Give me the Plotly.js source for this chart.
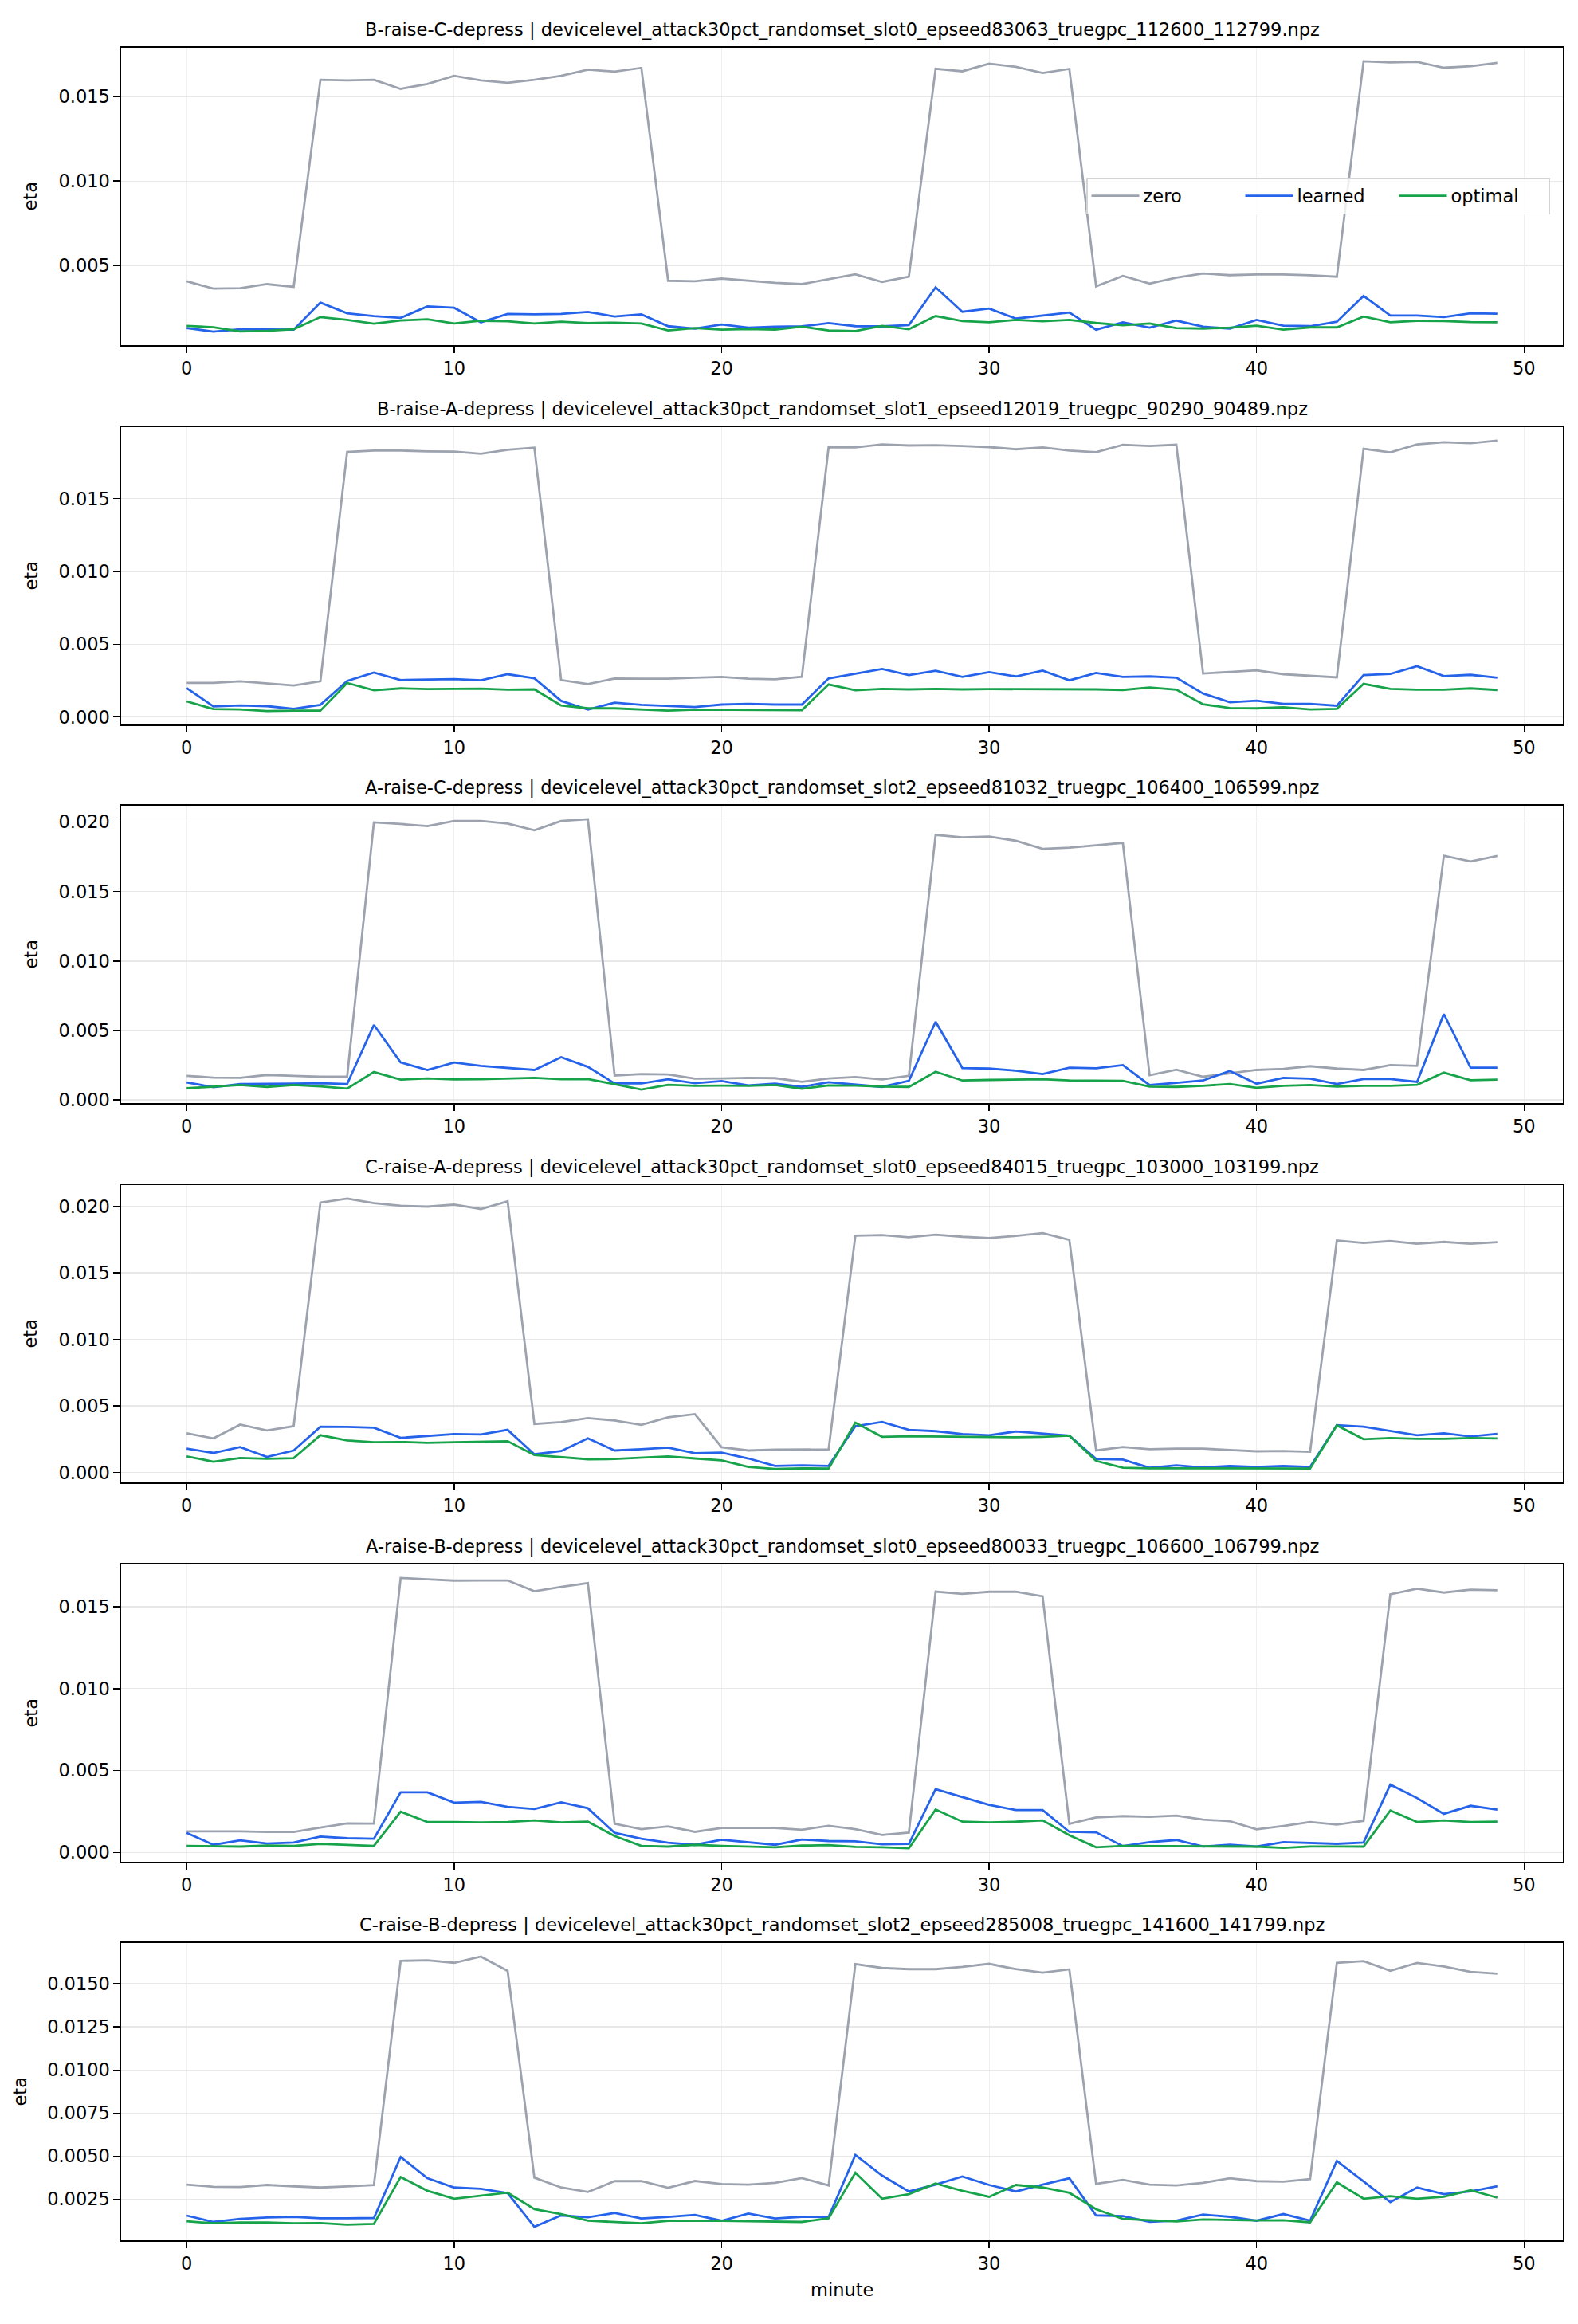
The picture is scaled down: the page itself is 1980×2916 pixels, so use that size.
<!DOCTYPE html>
<html>
<head>
<meta charset="utf-8">
<script src="https://cdn.plot.ly/plotly-3.0.1.min.js"></script>
<style>
  html, body { margin: 0; padding: 0; background: #ffffff; }
  #chart { width: 1980px; height: 2916px; }
</style>
</head>
<body>
<div id="chart"></div>
<script>
// ---------------- DATA ----------------
const minute = [0,1,2,3,4,5,6,7,8,9,10,11,12,13,14,15,16,17,18,19,20,21,22,23,24,25,26,27,28,29,30,31,32,33,34,35,36,37,38,39,40,41,42,43,44,45,46,47,48,49];

const panelTitles = [
  "B-raise-C-depress | devicelevel_attack30pct_randomset_slot0_epseed83063_truegpc_112600_112799.npz",
  "B-raise-A-depress | devicelevel_attack30pct_randomset_slot1_epseed12019_truegpc_90290_90489.npz",
  "A-raise-C-depress | devicelevel_attack30pct_randomset_slot2_epseed81032_truegpc_106400_106599.npz",
  "C-raise-A-depress | devicelevel_attack30pct_randomset_slot0_epseed84015_truegpc_103000_103199.npz",
  "A-raise-B-depress | devicelevel_attack30pct_randomset_slot0_epseed80033_truegpc_106600_106799.npz",
  "C-raise-B-depress | devicelevel_attack30pct_randomset_slot2_epseed285008_truegpc_141600_141799.npz"
];

const seriesNames = ["zero", "learned", "optimal"];

// Panel 1
const zero_p1 = [0.00407,0.00363,0.00366,0.0039,0.00374,0.0160,0.01596,0.0160,0.01546,0.01575,0.01623,0.01596,0.01582,0.0160,0.01623,0.0166,0.01648,0.0167,0.0041,0.00407,0.00423,0.0041,0.00398,0.0039,0.0042,0.00448,0.00403,0.00434,0.01665,0.0165,0.01695,0.01676,0.0164,0.01664,0.00377,0.00439,0.00393,0.00428,0.00453,0.00443,0.00447,0.00447,0.00442,0.00434,0.01709,0.01703,0.01706,0.01671,0.0168,0.0170];
const learned_p1 = [0.0013,0.00109,0.00123,0.00123,0.0012,0.00281,0.00217,0.00201,0.0019,0.00258,0.0025,0.00164,0.00214,0.00211,0.00214,0.00225,0.00198,0.00211,0.00141,0.00126,0.00151,0.00132,0.00138,0.0014,0.00159,0.00141,0.0014,0.00148,0.00371,0.00226,0.00245,0.00186,0.00203,0.00222,0.0012,0.00164,0.00132,0.00174,0.00138,0.00126,0.00178,0.00144,0.00141,0.00167,0.0032,0.00204,0.00204,0.00195,0.00217,0.00215];
const optimal_p1 = [0.00143,0.00135,0.0011,0.00113,0.00123,0.00195,0.00178,0.00156,0.00175,0.00182,0.00157,0.00173,0.0017,0.00157,0.00168,0.00159,0.00162,0.00157,0.00116,0.0013,0.0012,0.00124,0.00121,0.00138,0.00116,0.00112,0.00143,0.00123,0.00201,0.00171,0.00164,0.00178,0.0017,0.00178,0.0016,0.00146,0.00157,0.0013,0.00127,0.00132,0.00144,0.0012,0.00134,0.00134,0.00198,0.00164,0.00173,0.00171,0.00165,0.00164];

// Panel 2
const zero_p2 = [0.00234,0.00234,0.00245,0.00232,0.00217,0.00246,0.01821,0.0183,0.0183,0.01825,0.01823,0.01808,0.01836,0.0185,0.00254,0.00226,0.00265,0.00263,0.00263,0.0027,0.00276,0.00263,0.00259,0.00277,0.01854,0.01852,0.01872,0.01865,0.01867,0.01861,0.01854,0.01839,0.01852,0.0183,0.01819,0.0187,0.01861,0.0187,0.00299,0.0031,0.00321,0.00294,0.00283,0.00272,0.01843,0.01818,0.01872,0.01887,0.01881,0.01898];
const learned_p2 = [0.00199,0.00073,0.0008,0.00075,0.00057,0.00084,0.00248,0.00305,0.00254,0.00257,0.00261,0.00252,0.00294,0.00266,0.00111,0.00051,0.00099,0.00084,0.00078,0.00069,0.00086,0.00091,0.00086,0.00086,0.00265,0.00296,0.0033,0.00288,0.00318,0.00276,0.00308,0.00279,0.00319,0.00252,0.00303,0.00276,0.00279,0.0027,0.00162,0.00102,0.00113,0.00091,0.00091,0.00078,0.00288,0.00296,0.00349,0.00281,0.0029,0.0027];
const optimal_p2 = [0.00108,0.00055,0.00053,0.00042,0.00044,0.00044,0.00234,0.00184,0.00197,0.00192,0.00193,0.00195,0.00188,0.0019,0.0008,0.0006,0.0006,0.00051,0.00044,0.00051,0.00051,0.00047,0.00051,0.00047,0.00224,0.00184,0.00193,0.0019,0.00193,0.0019,0.00192,0.00192,0.00192,0.00192,0.0019,0.00186,0.00203,0.00188,0.00088,0.00062,0.0006,0.00068,0.00053,0.00057,0.00228,0.00193,0.00188,0.00188,0.00197,0.00186];

// Panel 3
const zero_p3 = [0.00174,0.00161,0.00159,0.0018,0.00174,0.00167,0.00167,0.01998,0.01987,0.01971,0.02008,0.02008,0.0199,0.01941,0.02008,0.02021,0.00176,0.00186,0.00184,0.00153,0.00155,0.00159,0.00157,0.0013,0.00155,0.00165,0.00148,0.00174,0.01908,0.01891,0.01897,0.01866,0.01808,0.01816,0.01833,0.01851,0.00178,0.00218,0.00167,0.00193,0.00216,0.00224,0.00243,0.00226,0.00216,0.00251,0.00245,0.01759,0.01718,0.01757];
const learned_p3 = [0.00126,0.00092,0.00115,0.00115,0.00117,0.00121,0.00115,0.0054,0.0027,0.00216,0.0027,0.00245,0.0023,0.00216,0.00308,0.00238,0.00119,0.00119,0.00149,0.00121,0.00136,0.00105,0.00117,0.00094,0.00128,0.00111,0.00094,0.00138,0.00563,0.0023,0.00226,0.00211,0.00186,0.00232,0.00228,0.00251,0.00107,0.00123,0.0014,0.00209,0.00117,0.00159,0.00153,0.00115,0.00151,0.00151,0.0013,0.00619,0.00232,0.00232];
const optimal_p3 = [0.00084,0.00096,0.00107,0.00094,0.00107,0.00098,0.00082,0.00201,0.00146,0.00155,0.00148,0.00149,0.00155,0.00159,0.00149,0.00151,0.00113,0.00075,0.00109,0.00102,0.00103,0.00102,0.00107,0.0008,0.00105,0.00103,0.00096,0.00094,0.00203,0.0014,0.00144,0.00148,0.00149,0.0014,0.0014,0.00138,0.00096,0.00094,0.00102,0.00115,0.00088,0.00102,0.00107,0.00096,0.00102,0.00102,0.00109,0.00197,0.00142,0.00146];

// Panel 4
const zero_p4 = [0.00295,0.00257,0.00361,0.00317,0.00349,0.02028,0.02058,0.02024,0.02004,0.01998,0.02014,0.0198,0.02038,0.00365,0.00379,0.00409,0.00391,0.00359,0.00415,0.00439,0.0019,0.00166,0.00172,0.00172,0.00174,0.0178,0.01784,0.01768,0.01788,0.01772,0.01762,0.01778,0.018,0.01749,0.00166,0.00192,0.00176,0.0018,0.0018,0.0017,0.0016,0.00162,0.00156,0.01743,0.01725,0.01739,0.01719,0.01733,0.01719,0.01731];
const learned_p4 = [0.0018,0.00148,0.00192,0.00118,0.00166,0.00345,0.00343,0.00337,0.00261,0.00277,0.00289,0.00287,0.00321,0.00138,0.00162,0.00257,0.00166,0.00176,0.00188,0.00146,0.0015,0.00106,0.0005,0.00054,0.0005,0.00349,0.00381,0.00321,0.00311,0.00289,0.00281,0.00309,0.00295,0.00277,0.00102,0.00098,0.00036,0.00054,0.00038,0.0005,0.00042,0.0005,0.00042,0.00357,0.00345,0.00311,0.00281,0.00295,0.00271,0.00291];
const optimal_p4 = [0.00122,0.00082,0.0011,0.00104,0.00108,0.00281,0.00242,0.00228,0.0023,0.00224,0.00228,0.00232,0.00236,0.00132,0.00114,0.001,0.00102,0.0011,0.00122,0.00106,0.00092,0.00042,0.00028,0.00032,0.0003,0.00375,0.00269,0.00273,0.00271,0.00269,0.00271,0.00265,0.00269,0.00277,0.00088,0.00036,0.00032,0.0003,0.00032,0.00032,0.00032,0.0003,0.0003,0.00355,0.00251,0.00259,0.00253,0.00253,0.00259,0.00257];

// Panel 5
const zero_p5 = [0.00129,0.00129,0.00129,0.00125,0.00125,0.00152,0.00178,0.00176,0.01675,0.01667,0.01659,0.0166,0.0166,0.01594,0.01621,0.01644,0.00175,0.00142,0.00159,0.00126,0.0015,0.0015,0.0015,0.00139,0.00163,0.00142,0.00107,0.00121,0.01592,0.01578,0.01591,0.01591,0.01563,0.00175,0.00214,0.00222,0.00218,0.00225,0.00201,0.00191,0.00141,0.00162,0.00186,0.0017,0.00193,0.01576,0.0161,0.01586,0.01604,0.0160];
const learned_p5 = [0.0012,0.00047,0.00074,0.00055,0.00061,0.00097,0.00087,0.00084,0.00367,0.00367,0.00304,0.00309,0.00278,0.00265,0.00306,0.0027,0.0012,0.00084,0.0006,0.00047,0.00078,0.00063,0.00047,0.00079,0.0007,0.00068,0.0005,0.00052,0.00387,0.00338,0.00291,0.00259,0.00259,0.00126,0.00123,0.00039,0.00063,0.00076,0.00037,0.00047,0.00036,0.00063,0.00058,0.00053,0.00061,0.00414,0.00332,0.00236,0.00285,0.00262];
const optimal_p5 = [0.0004,0.00039,0.00036,0.00042,0.0004,0.00052,0.00045,0.0004,0.00249,0.00186,0.00186,0.00184,0.00186,0.00196,0.00184,0.00188,0.001,0.0004,0.00036,0.00047,0.0004,0.00036,0.00032,0.00042,0.00045,0.00034,0.00032,0.00026,0.00262,0.00188,0.00184,0.00188,0.00196,0.00105,0.00032,0.0004,0.00039,0.00039,0.00039,0.00036,0.00036,0.00028,0.00037,0.00037,0.00036,0.00256,0.00186,0.00196,0.00186,0.00189];

// Panel 6
const zero_p6 = [0.00335,0.00322,0.00321,0.00333,0.00325,0.00318,0.00324,0.00332,0.01633,0.01636,0.01622,0.01658,0.01575,0.00375,0.00318,0.00292,0.00355,0.00355,0.00316,0.00356,0.00338,0.00335,0.00345,0.00373,0.0033,0.01615,0.01592,0.01585,0.01585,0.01598,0.01616,0.01585,0.01565,0.01584,0.00339,0.00362,0.00335,0.0033,0.00345,0.00372,0.00355,0.00352,0.00367,0.01622,0.01632,0.01575,0.01621,0.01601,0.01569,0.01559];
const learned_p6 = [0.00155,0.00118,0.00136,0.00144,0.00147,0.00139,0.00139,0.00141,0.00495,0.00372,0.00318,0.0031,0.00285,0.0009,0.00156,0.00145,0.0017,0.00138,0.00147,0.00159,0.00125,0.00167,0.00138,0.00148,0.00147,0.00507,0.00387,0.00295,0.00335,0.00382,0.00333,0.00295,0.00335,0.00372,0.00156,0.00152,0.00119,0.00125,0.00161,0.00148,0.00125,0.00164,0.00125,0.00472,0.00353,0.00233,0.00318,0.00279,0.00295,0.00325];
const optimal_p6 = [0.00122,0.0011,0.00115,0.00115,0.0011,0.00112,0.00102,0.00107,0.00379,0.00299,0.00253,0.0027,0.00288,0.00192,0.00164,0.00125,0.00118,0.0011,0.00124,0.00125,0.00125,0.00122,0.00119,0.00118,0.00139,0.00404,0.00253,0.00279,0.00341,0.00299,0.00264,0.00333,0.00318,0.00287,0.00192,0.00136,0.00128,0.00121,0.00132,0.00128,0.00127,0.00128,0.00116,0.00348,0.00253,0.00268,0.00253,0.00264,0.00302,0.00259];

const xTickVals = [0, 10, 20, 30, 40, 50];

// ---------------- BUILD ----------------
const panels = [
  [zero_p1, learned_p1, optimal_p1],
  [zero_p2, learned_p2, optimal_p2],
  [zero_p3, learned_p3, optimal_p3],
  [zero_p4, learned_p4, optimal_p4],
  [zero_p5, learned_p5, optimal_p5],
  [zero_p6, learned_p6, optimal_p6]
];
const colors = ["#9ca3af", "#2563eb", "#16a34a"];

const W = 1980, H = 2916;
const axLeft = 152, axRight = 1961;
const panelTops = [60, 536, 1011, 1487, 1963, 2438];
const panelH = 373;
const FONT = "DejaVu Sans, Liberation Sans, sans-serif";
const FS = 22.5;

const traces = [];
const layout = {
  width: W, height: H,
  margin: {l: 0, r: 0, t: 0, b: 0},
  paper_bgcolor: "#ffffff",
  plot_bgcolor: "#ffffff",
  font: {family: FONT, size: FS, color: "#000000"},
  showlegend: true,
  legend: {
    orientation: "h",
    x: 1945 / W, xanchor: "right",
    y: 1 - 246 / H, yanchor: "middle",
    bgcolor: "rgba(255,255,255,0.8)",
    bordercolor: "#d4d4d4",
    borderwidth: 1.5,
    font: {family: FONT, size: FS, color: "#000000"},
    itemwidth: 60,
    entrywidth: 118,
    traceorder: "normal"
  },
  annotations: []
};

panels.forEach((series, p) => {
  const idx = p + 1;
  const xa = "x" + (idx === 1 ? "" : idx);
  const ya = "y" + (idx === 1 ? "" : idx);
  series.forEach((vals, s) => {
    traces.push({
      type: "scatter", mode: "lines",
      x: minute, y: vals,
      name: seriesNames[s],
      xaxis: xa, yaxis: ya,
      line: {color: colors[s], width: 2.8},
      showlegend: p === 0,
      hoverinfo: "skip"
    });
  });
  let lo = Infinity, hi = -Infinity;
  series.forEach(v => v.forEach(d => { lo = Math.min(lo, d); hi = Math.max(hi, d); }));
  const pad = (hi - lo) * 0.05;
  const top = panelTops[p], bot = top + panelH;
  const dom = [1 - bot / H, 1 - top / H];
  const isLast = p === panels.length - 1;
  const commonAxis = {
    showline: true, mirror: true, linecolor: "#000000", linewidth: 1.6,
    ticks: "outside", ticklen: 8, tickwidth: 1.5, tickcolor: "#000000",
    showgrid: true, gridcolor: "#e8e8e8", gridwidth: 1.4,
    zeroline: false,
    tickfont: {family: FONT, size: FS, color: "#000000"}
  };
  layout["xaxis" + (idx === 1 ? "" : idx)] = Object.assign({}, commonAxis, {
    domain: [axLeft / W, axRight / W],
    anchor: ya,
    range: [-2.45, 51.45],
    tickvals: xTickVals,
    ticktext: xTickVals.map(String),
    gridcolor: "#f0f0f0", gridwidth: 1.0
  });
  layout["yaxis" + (idx === 1 ? "" : idx)] = Object.assign({}, commonAxis, {
    domain: dom,
    anchor: xa,
    range: [lo - pad, hi + pad],
    dtick: isLast ? 0.0025 : 0.005,
    tick0: 0,
    tickformat: isLast ? ".4f" : ".3f"
  });
  layout.annotations.push({
    text: panelTitles[p],
    xref: "paper", yref: "paper",
    x: (axLeft + axRight) / 2 / W, xanchor: "center",
    y: 1 - (top - 23) / H, yanchor: "middle",
    showarrow: false,
    font: {family: FONT, size: FS, color: "#000000"}
  });
  layout.annotations.push({
    text: "eta",
    xref: "paper", yref: "paper",
    x: (isLast ? 24 : 38) / W, xanchor: "center",
    y: 1 - (top + panelH / 2) / H, yanchor: "middle",
    textangle: -90,
    showarrow: false,
    font: {family: FONT, size: FS, color: "#000000"}
  });
});

layout.annotations.push({
  text: "minute",
  xref: "paper", yref: "paper",
  x: (axLeft + axRight) / 2 / W, xanchor: "center",
  y: 1 - 2873 / H, yanchor: "middle",
  showarrow: false,
  font: {family: FONT, size: FS, color: "#000000"}
});

Plotly.newPlot("chart", traces, layout, {staticPlot: true, displayModeBar: false});
</script>
</body>
</html>
